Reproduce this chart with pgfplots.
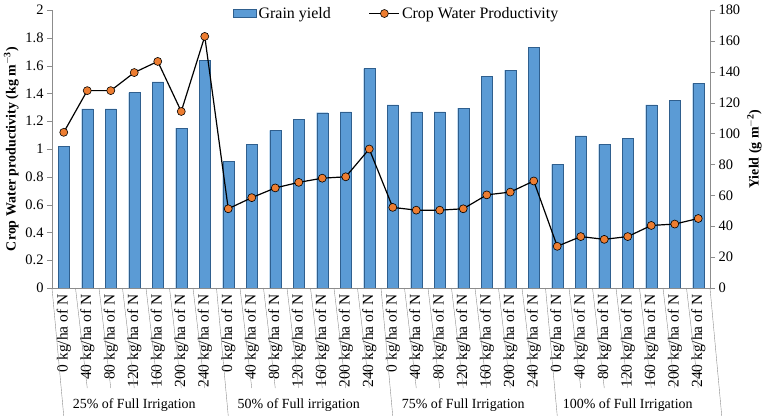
\documentclass[border=0pt]{standalone}
\usepackage{pgfplots}
\usepackage{pgfplotstable}
\pgfplotsset{compat=1.18}
\usepackage{fontspec}
\setmainfont{Liberation Serif}

\definecolor{barblue}{HTML}{5B9BD5}
\definecolor{baredge}{HTML}{2F5F8E}
\definecolor{dotorange}{HTML}{ED7D31}
\definecolor{axgray}{HTML}{8C8C8C}

% x: treatment index, yield (g m^-2, right axis), cwp (kg m^-3, left axis)
\pgfplotstableread{
x yield cwp
0 91.5 1.12
1 116 1.42
2 116 1.42
3 126.5 1.55
4 133.5 1.63
5 103.5 1.27
6 147.5 1.81
7 82 0.57
8 93 0.65
9 102 0.72
10 109 0.76
11 113.5 0.79
12 114 0.80
13 142 1.00
14 118.5 0.58
15 114 0.56
16 114 0.56
17 116.5 0.57
18 137 0.67
19 141 0.69
20 156 0.77
21 80 0.30
22 98.5 0.37
23 93 0.35
24 97 0.37
25 118.5 0.45
26 121.5 0.46
27 132.5 0.50
}\data

\pgfplotsset{
  base/.style={
    scale only axis, width=658bp, height=278bp,
    xmin=-0.5, xmax=27.5,
    axis line style={axgray},
    tick style={axgray},
    tick align=outside,
    major tick length=5bp,
    tick label style={font=\fontsize{14.5}{16}\selectfont},
    label style={font=\fontsize{14}{16}\selectfont\bfseries},
    /pgf/number format/assume math mode=true,
    clip=false,
  }
}
\tikzset{catlab/.style={rotate=90, anchor=east, font=\fontsize{15.5}{17}\selectfont}}

\begin{document}
\begin{tikzpicture}
\useasboundingbox (-52bp,-128bp) rectangle (716bp,288bp);

% bars on the right axis
\begin{axis}[base,
  ymin=0, ymax=180, ytick distance=20,
  axis y line*=right, axis x line=none,
  ylabel={Yield (g m$^{\mathbf{-2}}$)},
]
\addplot[ybar, bar width=0.47, fill=barblue, draw=baredge] table[x=x, y=yield] {\data};
\end{axis}

% line on the left axis
\begin{axis}[base,
  ymin=0, ymax=2, ytick distance=0.2,
  axis y line*=left, axis x line*=bottom,
  xtick=\empty,
  ylabel={Crop Water productivity (kg m$^{\mathbf{-3}}$)},
  legend style={at={(0.524,1.025)}, anchor=north, draw=none, fill=none,
    font=\fontsize{16}{18}\selectfont, legend columns=2,
    /tikz/every even column/.append style={column sep=36bp}},
  legend image code/.code={%
    \draw[#1] (0bp,0bp) -- (30bp,0bp);
    \draw[#1, only marks] plot coordinates {(15bp,0bp)};},
]
\addlegendimage{legend image code/.code={%
    \draw[fill=barblue, draw=baredge] (0bp,-4bp) rectangle (23bp,4bp);}}
\addlegendentry{Grain yield}
\addplot[black, line width=1.2pt, mark=*, mark size=4bp,
  mark options={fill=dotorange, draw=black, line width=0.6pt}] table[x=x, y=cwp] {\data};
\addlegendentry{Crop Water Productivity}

% category labels, one column of 23.5bp per treatment
\pgfplotsinvokeforeach{0,7,14,21}{
  \path (axis cs:#1,0) ++(0bp,-3bp) node[catlab] {0 kg/ha of N};
  \path (axis cs:#1,0) ++(23.5bp,-3bp) node[catlab] {40 kg/ha of N};
  \path (axis cs:#1,0) ++(47bp,-3bp) node[catlab] {80 kg/ha of N};
  \path (axis cs:#1,0) ++(70.5bp,-3bp) node[catlab] {120 kg/ha of N};
  \path (axis cs:#1,0) ++(94bp,-3bp) node[catlab] {160 kg/ha of N};
  \path (axis cs:#1,0) ++(117.5bp,-3bp) node[catlab] {200 kg/ha of N};
  \path (axis cs:#1,0) ++(141bp,-3bp) node[catlab] {240 kg/ha of N};
}

% separators below the axis
\pgfplotsinvokeforeach{0.5,1.5,2.5,3.5,4.5,5.5,7.5,8.5,9.5,10.5,11.5,12.5,14.5,15.5,16.5,17.5,18.5,19.5,21.5,22.5,23.5,24.5,25.5,26.5}{
  \draw[axgray] (axis cs:#1,0) -- ++(0,-100bp);
}
\pgfplotsinvokeforeach{-0.5,6.5,13.5,20.5,27.5}{
  \draw[axgray] (axis cs:#1,0) -- ++(0,-128bp);
}
\path (axis cs:3,0) node[yshift=-117bp, font=\fontsize{14}{16}\selectfont] {25\% of Full Irrigation};
\path (axis cs:10,0) node[yshift=-117bp, font=\fontsize{14}{16}\selectfont] {50\% of Full irrigation};
\path (axis cs:17,0) node[yshift=-117bp, font=\fontsize{14}{16}\selectfont] {75\% of Full Irrigation};
\path (axis cs:24,0) node[yshift=-117bp, font=\fontsize{14}{16}\selectfont] {100\% of Full Irrigation};
\end{axis}
\end{tikzpicture}
\end{document}
